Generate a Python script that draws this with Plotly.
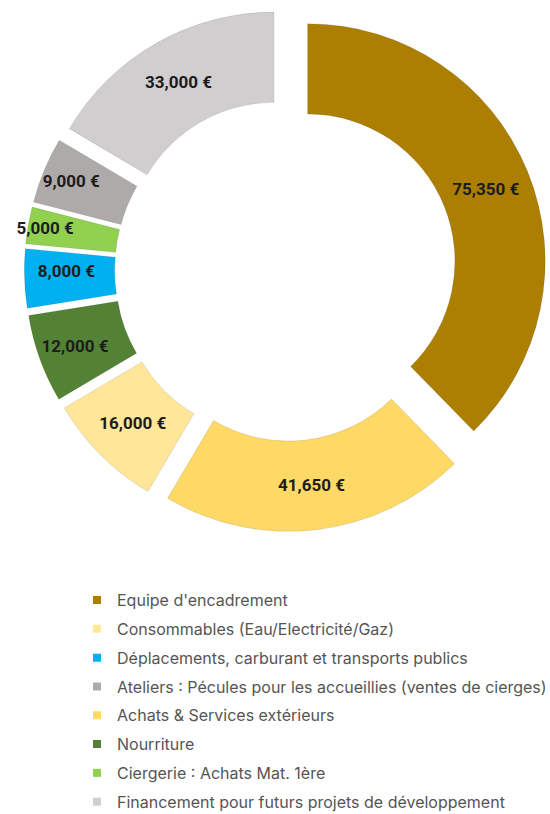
import plotly.graph_objects as go

# Slices in clockwise order starting at 12 o'clock
slice_labels = [
    "Equipe d'encadrement",
    "Achats & Services extérieurs",
    "Consommables (Eau/Electricité/Gaz)",
    "Nourriture",
    "Déplacements, carburant et transports publics",
    "Ciergerie : Achats Mat. 1ère",
    "Ateliers : Pécules pour les accueillies (ventes de cierges)",
    "Financement pour futurs projets de développement",
]
slice_values = [75350, 41650, 16000, 12000, 8000, 5000, 9000, 33000]
slice_colors = ["#AD7F00", "#FFD966", "#FFE699", "#548235",
                "#00B0F0", "#92D050", "#AEAAAA", "#D0CECE"]

# Legend order as shown in the reference
legend_order = [
    "Equipe d'encadrement",
    "Consommables (Eau/Electricité/Gaz)",
    "Déplacements, carburant et transports publics",
    "Ateliers : Pécules pour les accueillies (ventes de cierges)",
    "Achats & Services extérieurs",
    "Nourriture",
    "Ciergerie : Achats Mat. 1ère",
    "Financement pour futurs projets de développement",
]

color_of = dict(zip(slice_labels, slice_colors))

fig = go.Figure()
fig.add_trace(go.Pie(
    labels=slice_labels,
    values=slice_values,
    sort=False,
    direction="clockwise",
    rotation=0,
    hole=0.62,
    pull=[0.10] * len(slice_values),
    marker=dict(colors=slice_colors, line=dict(color="rgba(0,0,0,0.10)", width=1)),
    texttemplate="%{value:,.0f} €",
    textposition="inside",
    insidetextorientation="horizontal",
    textfont=dict(family="Roboto", size=17, color="#1c1c1c", weight="bold"),
    showlegend=False,
    domain=dict(x=[0.0427, 0.996], y=[0.347, 0.989]),
    hoverinfo="label+value+percent",
))

for name in legend_order:
    fig.add_trace(go.Scatter(
        x=[None], y=[None], mode="markers", name=name,
        legendgroup=name,
        marker=dict(symbol="square", size=8, color=color_of[name]),
        showlegend=True,
    ))

fig.update_layout(
    width=550, height=814,
    margin=dict(l=0, r=0, t=0, b=0, autoexpand=False),
    paper_bgcolor="white", plot_bgcolor="white",
    xaxis=dict(visible=False), yaxis=dict(visible=False),
    uniformtext=dict(minsize=17, mode="show"),
    showlegend=True,
    legend=dict(
        x=0.14, xanchor="left", y=0.2836, yanchor="top",
        font=dict(family="Inter", size=16, color="#555555"),
        traceorder="grouped", tracegroupgap=5.0,
        bgcolor="rgba(0,0,0,0)", borderwidth=0,
    ),
)

fig.write_html(
    "out.html",
    config={"displayModeBar": False},
    post_script="document.body.style.margin='0';document.body.style.overflow='hidden';",
)
